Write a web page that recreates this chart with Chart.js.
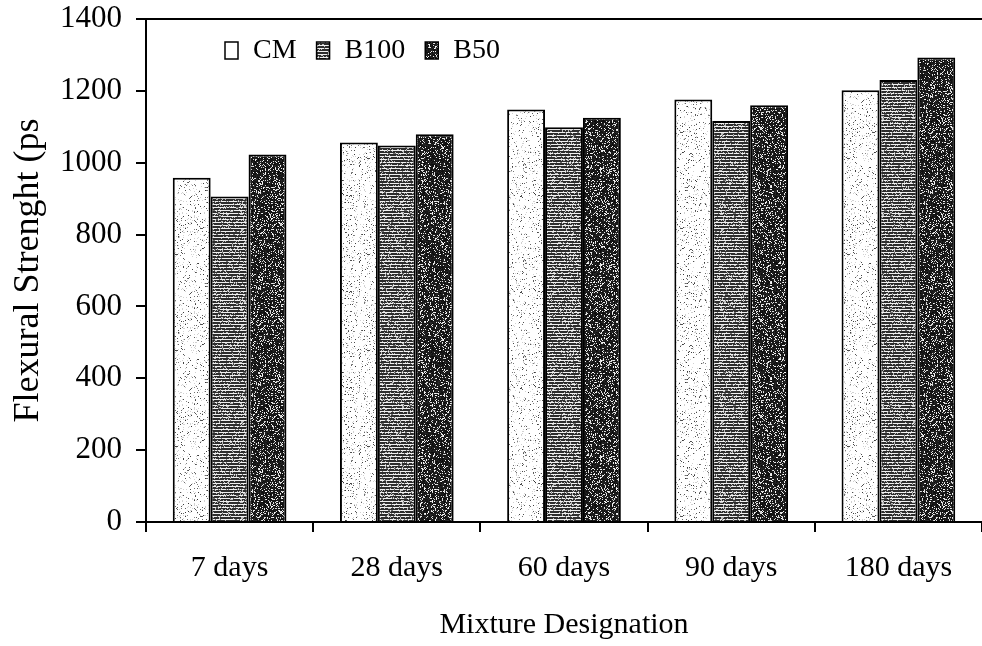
<!DOCTYPE html>
<html>
<head>
<meta charset="utf-8">
<title>Flexural Strength</title>
<script src="https://cdn.jsdelivr.net/npm/chart.js@4.4.1/dist/chart.umd.min.js"></script>
<style>
  html, body { margin: 0; padding: 0; background: #fff; }
  #wrap { width: 982px; height: 646px; }
</style>
</head>
<body>
<div id="wrap"><canvas id="strengthChart" width="982" height="646"></canvas></div>
<script>
const ages = ['7 days', '28 days', '60 days', '90 days', '180 days'];
const cmValues = [958, 1056, 1148, 1176, 1202];
const b100Values = [906, 1048, 1099, 1116, 1230];
const b50Values = [1023, 1079, 1125, 1160, 1293];
const yTicks = [0, 200, 400, 600, 800, 1000, 1200, 1400];

const serif = "'Liberation Serif', 'Times New Roman', serif";

// seeded generator so the grain is the same on every load
function makeRand(seed) {
    return function () {
        seed = seed + 0x6D2B79F5 | 0;
        let t = Math.imul(seed ^ seed >>> 15, 1 | seed);
        t = t + Math.imul(t ^ t >>> 7, 61 | t) ^ t;
        return ((t ^ t >>> 14) >>> 0) / 4294967296;
    };
}

// stipple / hatch fills like the old printed bar charts
function grainPattern(kind, seed) {
    const size = 96;
    const c = document.createElement('canvas');
    c.width = size;
    c.height = size;
    const g = c.getContext('2d');
    const img = g.createImageData(size, size);
    const rand = makeRand(seed);
    for (let y = 0; y < size; y++) {
        for (let x = 0; x < size; x++) {
            const r = rand();
            let v;
            if (kind === 'light') {
                v = r < 0.06 ? 50 + rand() * 90 : (r < 0.12 ? 210 : 255);
            } else if (kind === 'lines') {
                if (y % 3 === 0) v = r < 0.15 ? 110 : 240;
                else v = r < 0.15 ? 190 : 45;
            } else {
                v = r < 0.2 ? 200 + rand() * 55 : 10 + rand() * 30;
            }
            const i = (y * size + x) * 4;
            img.data[i] = img.data[i + 1] = img.data[i + 2] = v;
            img.data[i + 3] = 255;
        }
    }
    g.putImageData(img, 0, 0);
    return g.createPattern(c, 'repeat');
}

const cmFill = grainPattern('light', 11);
const b100Fill = grainPattern('lines', 23);
const b50Fill = grainPattern('dark', 37);
const legendFills = ['#fff', b100Fill, b50Fill];

// legend sits inside the plot, plus the line closing the top of the plot
const plotExtras = {
    id: 'plotExtras',
    afterDraw(chart) {
        const ctx = chart.ctx;
        const area = chart.chartArea;
        ctx.save();
        ctx.strokeStyle = '#000';
        ctx.lineWidth = 2;
        ctx.beginPath();
        ctx.moveTo(area.left, area.top);
        ctx.lineTo(area.right, area.top);
        ctx.stroke();

        let x = 225;
        const mid = 50;
        ctx.font = '28px ' + serif;
        ctx.textBaseline = 'middle';
        chart.data.datasets.forEach((ds, i) => {
            ctx.fillStyle = legendFills[i];
            ctx.fillRect(x, mid - 8, 13, 17);
            ctx.lineWidth = 1.5;
            ctx.strokeRect(x, mid - 8, 13, 17);
            x += 13 + 15;
            ctx.fillStyle = '#000';
            ctx.fillText(ds.label, x, mid + 1);
            x += ctx.measureText(ds.label).width + 20;
        });
        ctx.restore();
    }
};

const ctx = document.getElementById('strengthChart').getContext('2d');

const strengthChart = new Chart(ctx, {
    type: 'bar',
    data: {
        labels: ages,
        datasets: [
            { label: 'CM', data: cmValues, backgroundColor: cmFill },
            { label: 'B100', data: b100Values, backgroundColor: b100Fill },
            { label: 'B50', data: b50Values, backgroundColor: b50Fill }
        ]
    },
    options: {
        responsive: false,
        animation: false,
        layout: { padding: { top: 19, left: 0, right: 0, bottom: 0 } },
        datasets: {
            bar: {
                categoryPercentage: 0.68,
                barPercentage: 1.0,
                borderColor: '#000',
                borderWidth: 2
            }
        },
        plugins: {
            legend: { display: false },
            tooltip: { enabled: false }
        },
        scales: {
            x: {
                grid: { drawOnChartArea: false, tickLength: 10, color: '#000', lineWidth: 2 },
                border: { color: '#000', width: 2 },
                ticks: { color: '#000', font: { family: serif, size: 30 }, padding: 18, maxRotation: 0 },
                title: {
                    display: true,
                    text: 'Mixture Designation',
                    color: '#000',
                    font: { family: serif, size: 30 },
                    padding: { top: 0, bottom: 3 }
                },
                afterFit(scale) {
                    scale.height = 124;
                    scale.paddingLeft = 0;
                    scale.paddingRight = 0;
                }
            },
            y: {
                min: 0,
                max: 1400,
                afterBuildTicks(scale) { scale.ticks = yTicks.map(v => ({ value: v })); },
                grid: { drawOnChartArea: false, tickLength: 10, color: '#000', lineWidth: 2 },
                border: { color: '#000', width: 2 },
                ticks: {
                    color: '#000',
                    font: { family: serif, size: 31 },
                    padding: 14,
                    callback: v => String(v)
                },
                title: {
                    display: true,
                    text: 'Flexural Strenght (ps',
                    color: '#000',
                    font: { family: serif, size: 36 },
                    padding: { top: 7, bottom: 0 }
                },
                afterFit(scale) {
                    scale.width = 146;
                    scale.paddingTop = 0;
                    scale.paddingBottom = 0;
                }
            }
        }
    },
    plugins: [plotExtras]
});
</script>
</body>
</html>
